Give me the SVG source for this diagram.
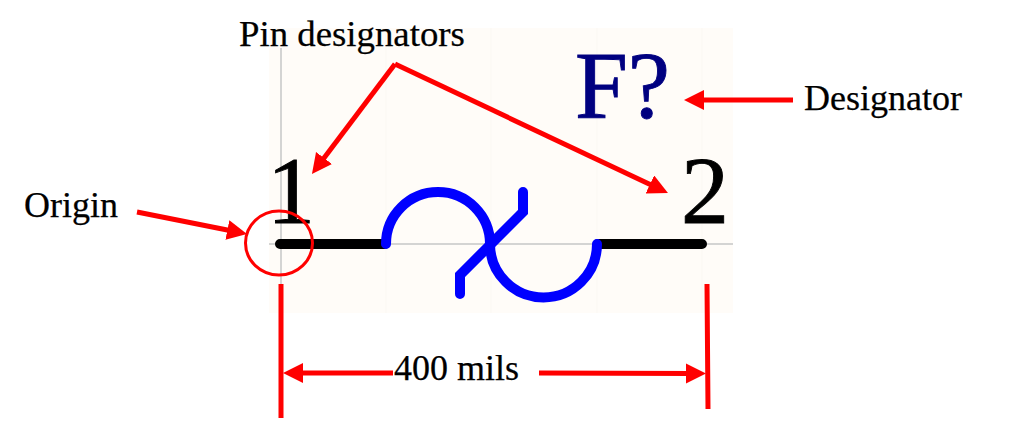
<svg xmlns="http://www.w3.org/2000/svg" width="1024" height="421" viewBox="0 0 1024 421">
<style>
text{font-family:"Liberation Serif","Times New Roman",serif;fill:#000}
.lbl{font-size:36px;stroke:#000;stroke-width:.25}
.big{font-size:96px;stroke:#000;stroke-width:.9}
.grid{stroke:#c6c6c6;stroke-width:1.5;fill:none}
.faint{stroke:#fbf8f3;stroke-width:1;fill:none}
.pin{stroke:#000;stroke-width:10;stroke-linecap:round;fill:none}
.sym{stroke:#0000ff;stroke-width:10;stroke-linecap:round;stroke-linejoin:miter;fill:none}
.red{stroke:#ff0000;stroke-width:5;fill:none}
.arr{marker-end:url(#head)}
</style>
<defs>
<marker id="head" markerUnits="userSpaceOnUse" markerWidth="21" markerHeight="21" refX="5" refY="10" orient="auto">
<path d="M0,0L20,10L0,20Z" fill="#ff0000"/>
</marker>
</defs>
<rect width="1024" height="421" fill="#fff"/>
<g id="symbol">
<rect x="269" y="28" width="464" height="285" fill="#fffcf8"/>
<path class="faint" d="M386,28V313M491,28V313M597,28V313M702,28V313"/>
<path class="grid" d="M281,48V284M269,244H733"/>
<path class="pin" d="M280,244H385M598,244H702"/>
<path class="sym" d="M386,244A52,52 0 0 1 490,244A53.500,53.500 0 0 0 597,244"/>
<path class="sym" d="M460,294V275L523,212V192"/>
<text class="big" x="267" y="223">1</text>
<text class="big" x="681" y="223">2</text>
<text class="big" x="575" y="118" style="fill:#000080;stroke:#000080;font-size:95px">F?</text>
</g>
<g id="origin-marker">
<ellipse cx="279" cy="243" rx="33.500" ry="32" fill="none" stroke="#ff0000" stroke-width="3"/>
</g>
<g id="labels">
<text class="lbl" x="239" y="46" style="font-size:36.800px">Pin designators</text>
<text class="lbl" x="804" y="110">Designator</text>
<text class="lbl" x="24" y="217">Origin</text>
<text class="lbl" x="394" y="380">400 mils</text>
</g>
<g id="connectors">
<path class="red arr" d="M395,64L321,162"/>
<path class="red arr" d="M395,64L654.400,186.600"/>
<path class="red arr" d="M793,100H699"/>
<path class="red arr" d="M137,212L232.300,231"/>
<path class="red" d="M281,284V418M707,284L708,409"/>
<path class="red arr" d="M393,373H298"/>
<path class="red arr" d="M539,373L691,373.500"/>
</g>
</svg>
